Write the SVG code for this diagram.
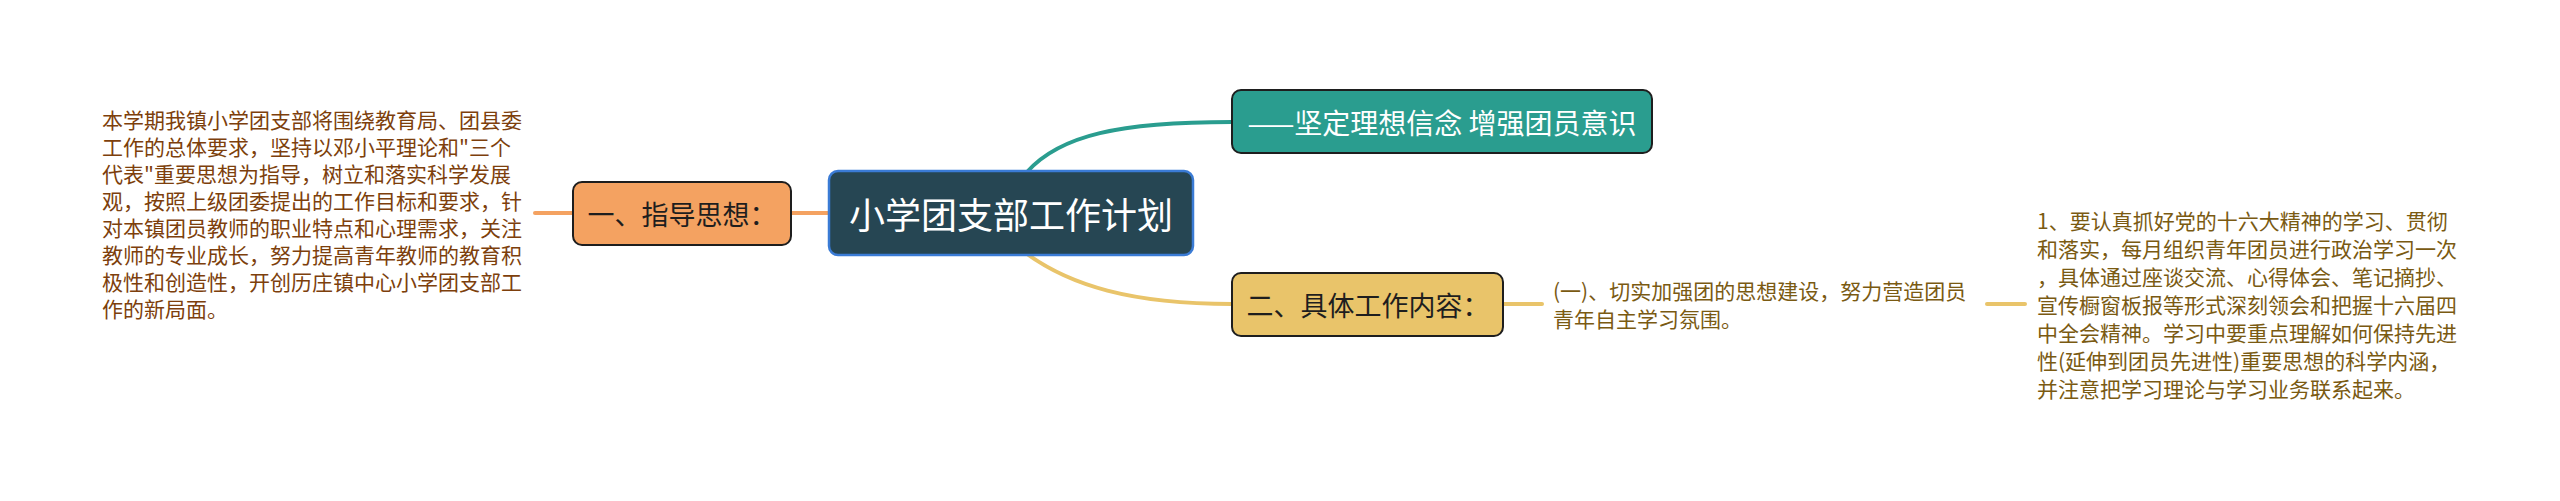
<svg xmlns="http://www.w3.org/2000/svg" width="2560" height="501" viewBox="0 0 2560 501">
<style>
text { font-family: "Noto Sans CJK SC", "Noto Sans", sans-serif; dominant-baseline: central; }
.conn { fill: none; stroke-width: 4; stroke-linecap: round; }
.main { font-size: 36px; fill: #ffffff; text-anchor: middle; }
.l1 { font-size: 27px; text-anchor: middle; }
.para { font-size: 21px; }
.box { stroke: #1e1e1e; stroke-width: 2; }
</style>
<rect width="2560" height="501" fill="#ffffff"/>
<g id="connectors">
  <path class="conn" stroke="#2a9d8f" d="M1027,172 C1060,135 1120,122 1232,122"/>
  <path class="conn" stroke="#e9c46a" d="M1027,254 C1070,285 1130,304 1232,304"/>
  <path class="conn" stroke="#f4a261" d="M791,213 L829,213"/>
  <path class="conn" stroke="#f4a261" d="M535,213 L573,213"/>
  <path class="conn" stroke="#e9c46a" d="M1503,304 L1542,304"/>
  <path class="conn" stroke="#e9c46a" d="M1987,304 L2025,304"/>
</g>
<g id="root">
  <rect x="829" y="171" width="364" height="84" rx="9" fill="#264653" stroke="#3a7bd5" stroke-width="2.5"/>
  <text class="main" x="1011" y="213">小学团支部工作计划</text>
</g>
<g id="node-teal">
  <rect class="box" x="1232" y="90" width="420" height="63" rx="9" fill="#2a9d8f"/>
  <text class="l1" x="1442" y="122" fill="#ffffff" style="font-size:28px">——坚定理想信念 增强团员意识</text>
</g>
<g id="node-orange">
  <rect class="box" x="573" y="182" width="218" height="63" rx="9" fill="#f4a261"/>
  <text class="l1" x="682" y="213" fill="#1e1e1e">一、指导思想：</text>
</g>
<g id="node-yellow">
  <rect class="box" x="1232" y="273" width="271" height="63" rx="9" fill="#e9c46a"/>
  <text class="l1" x="1368" y="304" fill="#1e1e1e">二、具体工作内容：</text>
</g>
<g id="text-left">
  <text class="para" fill="#7d3f0c">
    <tspan x="102" y="118.5">本学期我镇小学团支部将围绕教育局、团县委</tspan>
    <tspan x="102" y="145.5">工作的总体要求，坚持以邓小平理论和"三个</tspan>
    <tspan x="102" y="172.5">代表"重要思想为指导，树立和落实科学发展</tspan>
    <tspan x="102" y="199.5">观，按照上级团委提出的工作目标和要求，针</tspan>
    <tspan x="102" y="226.5">对本镇团员教师的职业特点和心理需求，关注</tspan>
    <tspan x="102" y="253.5">教师的专业成长，努力提高青年教师的教育积</tspan>
    <tspan x="102" y="280.5">极性和创造性，开创历庄镇中心小学团支部工</tspan>
    <tspan x="102" y="307.5">作的新局面。</tspan>
  </text>
</g>
<g id="text-mid">
  <text class="para" fill="#7a5a12">
    <tspan x="1553" y="290">(一)、切实加强团的思想建设，努力营造团员</tspan>
    <tspan x="1553" y="318">青年自主学习氛围。</tspan>
  </text>
</g>
<g id="text-right">
  <text class="para" fill="#7a5a12">
    <tspan x="2037" y="220">1、要认真抓好党的十六大精神的学习、贯彻</tspan>
    <tspan x="2037" y="248">和落实，每月组织青年团员进行政治学习一次</tspan>
    <tspan x="2037" y="276">，具体通过座谈交流、心得体会、笔记摘抄、</tspan>
    <tspan x="2037" y="304">宣传橱窗板报等形式深刻领会和把握十六届四</tspan>
    <tspan x="2037" y="332">中全会精神。学习中要重点理解如何保持先进</tspan>
    <tspan x="2037" y="360">性(延伸到团员先进性)重要思想的科学内涵，</tspan>
    <tspan x="2037" y="388">并注意把学习理论与学习业务联系起来。</tspan>
  </text>
</g>
</svg>
